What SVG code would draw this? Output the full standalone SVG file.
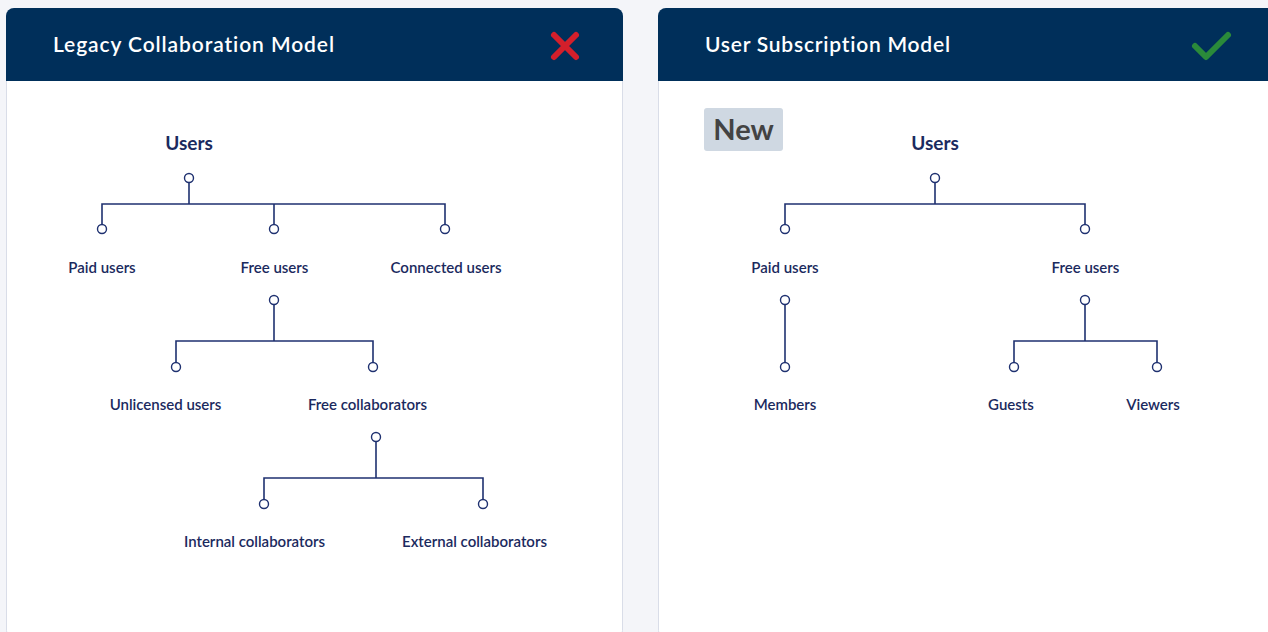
<svg xmlns="http://www.w3.org/2000/svg" width="1268" height="632" viewBox="0 0 1268 632">
<style>
text{font-variant-ligatures:none}
.card{fill:#ffffff;stroke:#d9dde8;stroke-width:1}
.hdr{fill:#002f5a}
.title{font-family:Lato,"Noto Sans",sans-serif;font-size:21px;font-weight:600;fill:#ffffff}
.root{font-family:Lato,"Noto Sans",sans-serif;font-size:19px;font-weight:700;fill:#1b2a5e;text-anchor:middle}
.lbl{font-family:Lato,"Noto Sans",sans-serif;font-size:15px;font-weight:600;fill:#1b2a5e;text-anchor:middle}
.dot{fill:#ffffff;stroke:#1f3170;stroke-width:1.4}
.ln{fill:none;stroke:#1f3170;stroke-width:1.6}
</style>
<rect width="1268" height="632" fill="#f4f5f9"/>
<g id="card-legacy">
<rect class="card" x="6.5" y="8.5" width="616" height="630" rx="8"/>
<path class="hdr" d="M6 81 V16 a8 8 0 0 1 8 -8 H615 a8 8 0 0 1 8 8 V81 Z"/>
<text class="title" x="53" y="52" textLength="281">Legacy Collaboration Model</text>
<path d="M554 35 L576 57 M576 35 L554 57" stroke="#d41f2b" stroke-width="6" stroke-linecap="round" fill="none"/>
</g>
<g id="card-subscription">
<rect class="card" x="658.5" y="8.5" width="620" height="630" rx="8"/>
<path class="hdr" d="M658 81 V16 a8 8 0 0 1 8 -8 H1280 V81 Z"/>
<text class="title" x="705" y="52" textLength="245">User Subscription Model</text>
<path d="M1195 46 L1206 57 L1228 35" stroke="#2a8a3a" stroke-width="6" stroke-linecap="round" stroke-linejoin="round" fill="none"/>
</g>
<g id="connectors">
<path class="ln" d="M189 182.5 V204 M102 224.5 V204 H445 V224.5 M274 204 V224.5"/>
<path class="ln" d="M274 304.5 V341 M176 362.5 V341 H373 V362.5"/>
<path class="ln" d="M376 441.5 V478 M264 499.5 V478 H483 V499.5"/>
<path class="ln" d="M935 182.5 V204 M785 224.5 V204 H1085 V224.5"/>
<path class="ln" d="M785 304.5 V362.5"/>
<path class="ln" d="M1085 304.5 V341 M1014 362.5 V341 H1157 V362.5"/>
</g>
<g id="legacy-users"><text class="root" x="189" y="150">Users</text><circle class="dot" cx="189" cy="178" r="4.5"/></g>
<g id="legacy-paid"><circle class="dot" cx="102" cy="229" r="4.5"/><text class="lbl" x="102" y="272.5">Paid users</text></g>
<g id="legacy-free"><circle class="dot" cx="274" cy="229" r="4.5"/><text class="lbl" x="274.5" y="272.5">Free users</text><circle class="dot" cx="274" cy="300" r="4.5"/></g>
<g id="legacy-connected"><circle class="dot" cx="445" cy="229" r="4.5"/><text class="lbl" x="446" y="272.5">Connected users</text></g>
<g id="legacy-unlicensed"><circle class="dot" cx="176" cy="367" r="4.5"/><text class="lbl" x="165.5" y="409.5">Unlicensed users</text></g>
<g id="legacy-freecollab"><circle class="dot" cx="373" cy="367" r="4.5"/><text class="lbl" x="367.5" y="409.5">Free collaborators</text><circle class="dot" cx="376" cy="437" r="4.5"/></g>
<g id="legacy-internal"><circle class="dot" cx="264" cy="504" r="4.5"/><text class="lbl" x="254.5" y="546.5">Internal collaborators</text></g>
<g id="legacy-external"><circle class="dot" cx="483" cy="504" r="4.5"/><text class="lbl" x="474.5" y="546.5">External collaborators</text></g>
<g id="badge-new"><rect x="704" y="108" width="79" height="43" rx="3" fill="#cfd8e2"/><text x="743.5" y="140" font-family="Lato,'Noto Sans',sans-serif" font-size="29" font-weight="700" fill="#434343" text-anchor="middle">New</text></g>
<g id="sub-users"><text class="root" x="935" y="150">Users</text><circle class="dot" cx="935" cy="178" r="4.5"/></g>
<g id="sub-paid"><circle class="dot" cx="785" cy="229" r="4.5"/><text class="lbl" x="785" y="272.5">Paid users</text><circle class="dot" cx="785" cy="300" r="4.5"/></g>
<g id="sub-free"><circle class="dot" cx="1085" cy="229" r="4.5"/><text class="lbl" x="1085.5" y="272.5">Free users</text><circle class="dot" cx="1085" cy="300" r="4.5"/></g>
<g id="sub-members"><circle class="dot" cx="785" cy="367" r="4.5"/><text class="lbl" x="785" y="409.5">Members</text></g>
<g id="sub-guests"><circle class="dot" cx="1014" cy="367" r="4.5"/><text class="lbl" x="1011" y="409.5">Guests</text></g>
<g id="sub-viewers"><circle class="dot" cx="1157" cy="367" r="4.5"/><text class="lbl" x="1153" y="409.5">Viewers</text></g>
</svg>
